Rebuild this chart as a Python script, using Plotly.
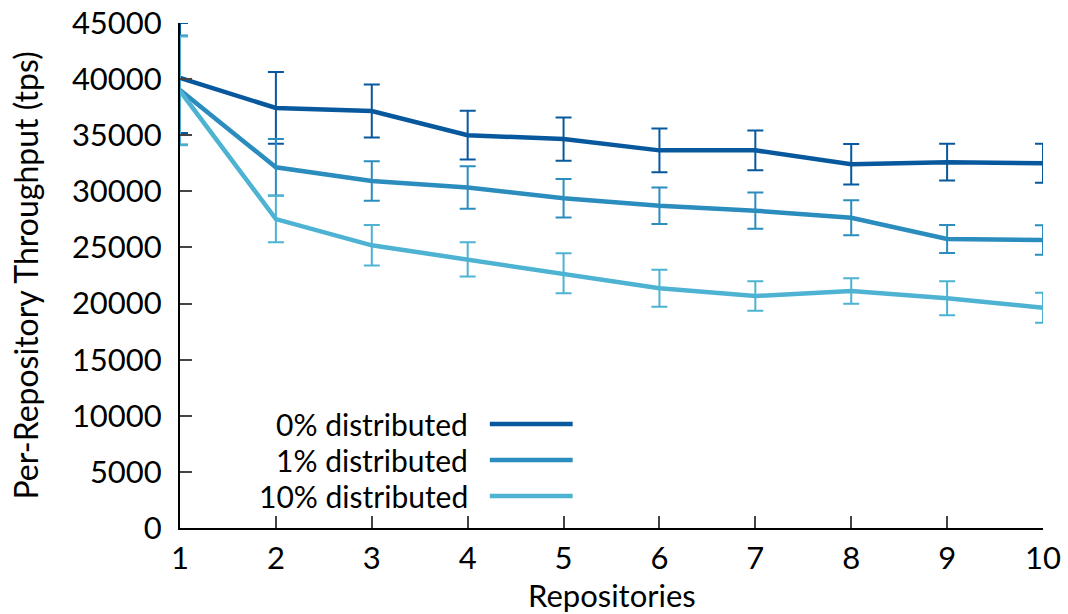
import plotly.graph_objects as go

repositories = [1, 2, 3, 4, 5, 6, 7, 8, 9, 10]

series_names = ["0% distributed", "1% distributed", "10% distributed"]

tput_0 = [40100, 37430, 37160, 35000, 34660, 33650, 33650, 32420, 32600, 32500]
err_0 = [4900, 3200, 2370, 2170, 1930, 1960, 1770, 1800, 1640, 1730]

tput_1 = [39030, 32140, 30920, 30340, 29380, 28720, 28280, 27650, 25750, 25660]
err_1 = [4850, 2520, 1770, 1900, 1720, 1620, 1620, 1560, 1250, 1320]

tput_10 = [38950, 27530, 25190, 23940, 22700, 21360, 20670, 21120, 20470, 19630]
err_10 = [4850, 2070, 1800, 1530, 1790, 1650, 1320, 1130, 1520, 1330]

colors = ["#08589e", "#2b8cbe", "#4eb3d3"]

y_ticks = [0, 5000, 10000, 15000, 20000, 25000, 30000, 35000, 40000, 45000]

FONT = "Lato"

fig = go.Figure()
for name, ys, es, c in zip(series_names, [tput_0, tput_1, tput_10],
                           [err_0, err_1, err_10], colors):
    fig.add_trace(go.Scatter(
        x=repositories, y=ys, name=name, mode="lines",
        line=dict(color=c, width=4.5),
        error_y=dict(type="data", array=es, visible=True,
                     color=c, thickness=2, width=8),
        cliponaxis=False, showlegend=False,
    ))

# custom legend: right-aligned text with line sample on the right
leg_y = [0.2059, 0.1347, 0.0634]
for name, c, yy in zip(series_names, colors, leg_y):
    fig.add_annotation(
        x=0.336, y=yy, xref="paper", yref="paper", text=name,
        showarrow=False, xanchor="right", yanchor="middle",
        font=dict(family=FONT, size=30, color="black"),
    )
    fig.add_shape(
        type="line", xref="paper", yref="paper",
        x0=0.359, x1=0.455, y0=yy, y1=yy,
        line=dict(color=c, width=4.5),
    )

# axis titles
fig.add_annotation(
    x=-0.1796, y=0.5, xref="paper", yref="paper",
    text="Per-Repository Throughput (tps)", textangle=-90,
    showarrow=False, xanchor="center", yanchor="middle",
    font=dict(family=FONT, size=32, color="black"),
)
fig.add_annotation(
    x=0.5, y=-0.132, xref="paper", yref="paper",
    text="Repositories", showarrow=False,
    xanchor="center", yanchor="middle",
    font=dict(family=FONT, size=31, color="black"),
)

fig.update_layout(
    width=1068, height=614,
    margin=dict(l=180, r=25, t=23, b=86),
    plot_bgcolor="white", paper_bgcolor="white",
    font=dict(family=FONT, size=31, color="black"),
)
fig.update_xaxes(
    range=[1, 10], tickvals=repositories, automargin=False,
    showline=True, linecolor="black", linewidth=2,
    ticks="inside", ticklen=12, tickcolor="#444", tickwidth=1.5,
    showgrid=False, zeroline=False, mirror=False,
    tickfont=dict(size=31), ticklabelstandoff=2,
)
fig.update_yaxes(
    range=[0, 45000], tickvals=y_ticks, tickformat="d", automargin=False,
    showline=True, linecolor="black", linewidth=2,
    ticks="inside", ticklen=12, tickcolor="#444", tickwidth=1.5,
    showgrid=False, zeroline=False, mirror=False,
    tickfont=dict(size=31), ticklabelstandoff=10,
)

fig.write_html("out.html")
